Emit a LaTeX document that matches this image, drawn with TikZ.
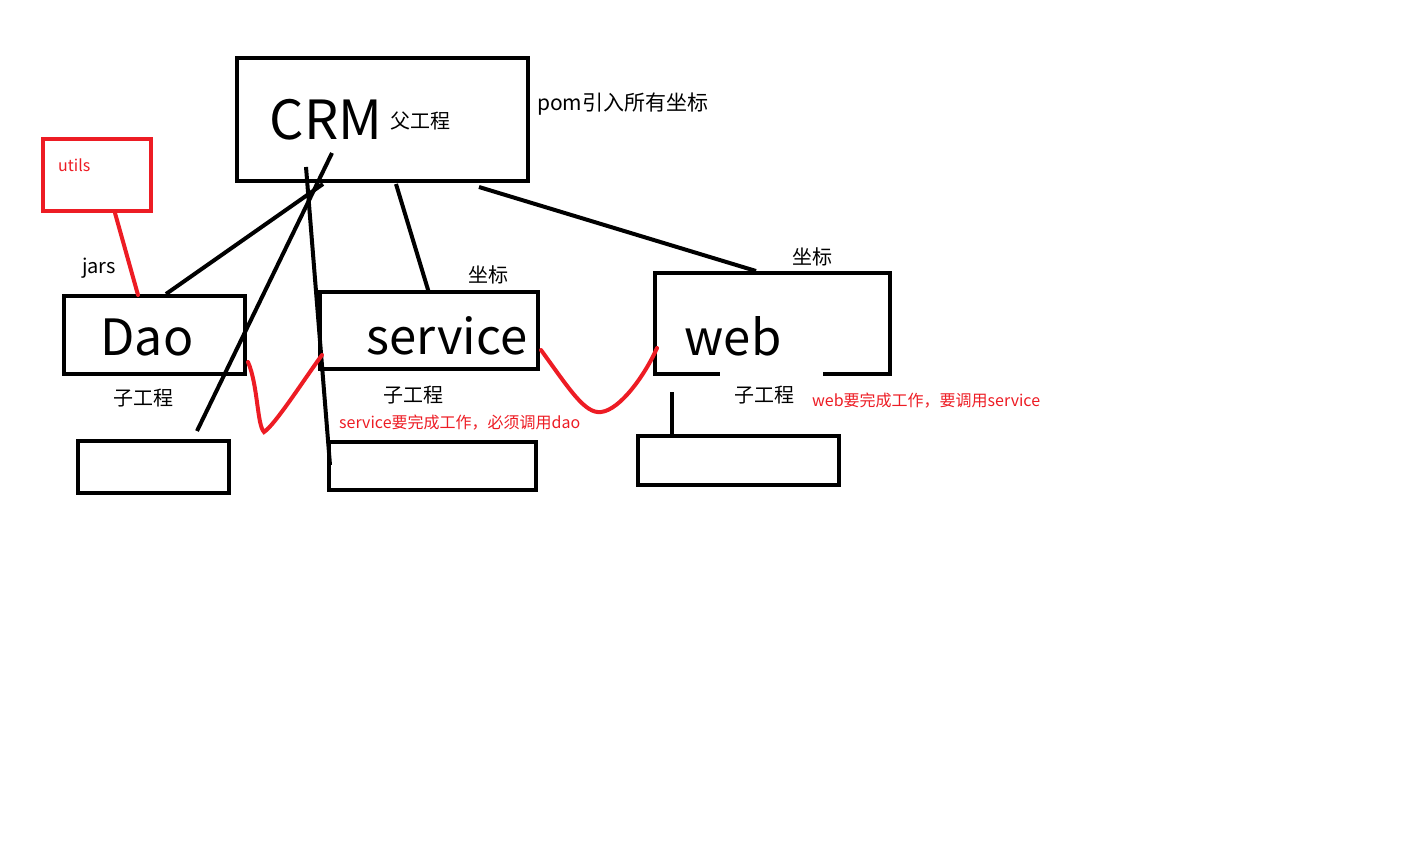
\documentclass[tikz,border=0pt]{standalone}
\usepackage{fontspec}
\setmainfont{Noto Sans CJK SC}
\definecolor{paintred}{RGB}{237,28,36}

\begin{document}
\begin{tikzpicture}[x=1pt,y=-1pt,
		box/.style={draw,line width=4pt,inner sep=0pt},
		redbox/.style={draw=paintred,line width=4pt,inner sep=0pt},
		wire/.style={line width=4pt},
		redwire/.style={draw=paintred,line width=4pt,line cap=round},
		lbl/.style={inner sep=0pt,font=\fontsize{20}{24}\selectfont},
		redlbl/.style={inner sep=0pt,text=paintred,font=\fontsize{16}{19}\selectfont},
		big/.style={inner sep=0pt,font=\fontsize{49}{60}\selectfont}]
	\useasboundingbox (0,0) rectangle (1402,861);
	% modules
	\node[box,minimum width=291,minimum height=123] (crm) at (382.5,119.5) {};
	\node[redbox,minimum width=108,minimum height=72] (utils) at (97,175) {};
	\node[box,minimum width=181,minimum height=78] (dao) at (154.5,335) {};
	\node[box,minimum width=218,minimum height=77] (service) at (429,330.5) {};
	\node[box,minimum width=235,minimum height=101] (web) at (772.5,323.5) {};
	\node[box,minimum width=151,minimum height=52] (subone) at (153.5,467) {};
	\node[box,minimum width=207,minimum height=48] (subtwo) at (432.5,466) {};
	\node[box,minimum width=201,minimum height=49] (subthree) at (738.5,460.5) {};
	% texts
	\node[big,font=\fontsize{54}{60}\selectfont] (crmname) at (326,120) {CRM};
	\node[lbl] (crmtag) at (420,121) {父工程};
	\node[lbl,anchor=west,font=\fontsize{21}{24}\selectfont] (pomnote) at (537,104) {pom引入所有坐标};
	\node[redlbl,anchor=west] (utilsname) at (58,165) {utils};
	\node[lbl] (jars) at (99,268) {jars};
	\node[big,font=\fontsize{50}{60}\selectfont] (daoname) at (147,337) {Dao};
	\node[lbl] (daotag) at (143,398) {子工程};
	\node[big] (servicename) at (447,336) {service};
	\node[lbl] (servicecoord) at (488,275) {坐标};
	\node[lbl] (servicetag) at (413,395) {子工程};
	\node[big] (webname) at (733,336) {web};
	\node[lbl] (webcoord) at (812,257) {坐标};
	\node[lbl,fill=white,minimum width=103,minimum height=46] (webtag) at (771,395) {};
	\node[lbl] at (764,395) {子工程};
	\node[redlbl,anchor=west] (servicenote) at (339,423) {service要完成工作，必须调用dao};
	\node[redlbl,anchor=west] (webnote) at (812,401) {web要完成工作，要调用service};
	% connectors
	\coordinate (crmA) at (323,184);
	\coordinate (daotop) at (166,294);
	\coordinate (crmB) at (332,153);
	\coordinate (oneend) at (197,431);
	\coordinate (crmC) at (306,167);
	\coordinate (twoend) at (330,465);
	\coordinate (crmD) at (396,184);
	\coordinate (servicetop) at (429,293);
	\coordinate (crmE) at (479,187);
	\coordinate (webtop) at (756,271);
	\coordinate (webdrop) at (672,392);
	\draw[wire] (daotop) -- (crmA);
	\draw[wire] (crmB) -- (oneend);
	\draw[wire] (crmC) -- (twoend);
	\draw[wire] (crmD) -- (servicetop);
	\draw[wire] (crmE) -- (webtop);
	\draw[wire] (webdrop) -- (subthree.north -| webdrop);
	% calls
	\coordinate (utilsfoot) at (115,213);
	\coordinate (daohead) at (138,295);
	\coordinate (daoside) at (248,362);
	\coordinate (serviceleft) at (322,355);
	\coordinate (serviceright) at (541,350);
	\coordinate (webleft) at (657,348);
	\draw[redwire] (utilsfoot) -- (daohead);
	\draw[redwire] (daoside) .. controls (258,385) and (257,425) .. (264,432)
		.. controls (275,425) and (305,378) .. (serviceleft);
	\draw[redwire] (serviceright) .. controls (570,390) and (585,414) .. (601,412)
		.. controls (620,410) and (645,375) .. (webleft);
\end{tikzpicture}
\end{document}
